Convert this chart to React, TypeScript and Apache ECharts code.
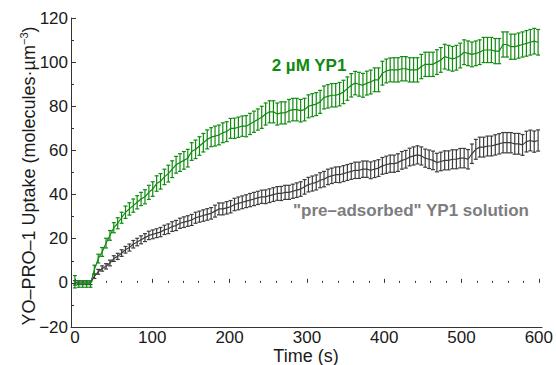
import React, { useEffect, useRef } from 'react';
import * as echarts from 'echarts';

// Time points (s)
const times = [
  0, 5, 10, 15, 20, 25, 30, 35, 40, 45,
  50, 55, 60, 65, 70, 75, 80, 85, 90, 95,
  100, 105, 110, 115, 120, 125, 130, 135, 140, 145,
  150, 155, 160, 165, 170, 175, 180, 185, 190, 195,
  200, 205, 210, 215, 220, 225, 230, 235, 240, 245,
  250, 255, 260, 265, 270, 275, 280, 285, 290, 295,
  300, 305, 310, 315, 320, 325, 330, 335, 340, 345,
  350, 355, 360, 365, 370, 375, 380, 385, 390, 395,
  400, 405, 410, 415, 420, 425, 430, 435, 440, 445,
  450, 455, 460, 465, 470, 475, 480, 485, 490, 495,
  500, 505, 510, 515, 520, 525, 530, 535, 540, 545,
  550, 555, 560, 565, 570, 575, 580, 585, 590, 595,
];

// 2 µM YP1 uptake (molecules·µm^-3)
const greenMean = [
  0.5, -0.5, -0.5, -0.5, -0.5, 6, 11, 14, 18, 21.5,
  25, 27, 29.5, 32, 33.5, 35, 36.5, 38, 39, 41,
  42.5, 45, 46, 48, 49.5, 51.5, 53.5, 54.5, 55.5, 56.5,
  59.5, 60.5, 62, 63.5, 65, 66, 66.5, 67, 68, 68.5,
  70, 70, 70.5, 71, 71, 72, 73, 74, 75, 76.5,
  77.5, 77.5, 76.5, 77, 77, 78, 78.5, 78.5, 78, 78.5,
  80, 80.5, 81, 82, 84, 84.5, 85, 85, 85.5, 86.5,
  88, 89.5, 90.5, 90, 89.5, 90.5, 91, 92, 92, 95,
  96, 96.5, 96.5, 96.5, 97, 97, 96.5, 96.5, 96.5, 98,
  99, 99, 99, 100, 101, 102.5, 102, 101.5, 102, 103,
  104.5, 104, 103.5, 104, 104.5, 105.5, 105.5, 105.5, 105, 105,
  108, 108, 107, 107, 107.5, 108, 108.5, 109, 109.5, 109,
];
const greenErr = [
  2.8, 1.5, 1.5, 1.5, 1.5, 2, 2, 2, 2.2, 2.2,
  2.3, 2.5, 2.5, 2.8, 2.8, 3, 3, 3, 3.2, 3.2,
  3.3, 3.5, 3.5, 3.5, 3.8, 3.8, 3.8, 4, 4, 4,
  4, 4.2, 4.2, 4.2, 4.3, 4.3, 4.5, 4.5, 4.5, 4.5,
  4.5, 4.6, 4.6, 4.6, 4.8, 4.8, 4.8, 4.8, 5, 5,
  5, 5, 5, 5, 5, 5.1, 5.1, 5.1, 5.1, 5.1,
  5.2, 5.2, 5.2, 5.2, 5.2, 5.3, 5.3, 5.3, 5.3, 5.3,
  5.3, 5.3, 5.3, 5.4, 5.4, 5.4, 5.4, 5.4, 5.4, 5.4,
  5.4, 5.4, 5.5, 5.5, 5.5, 5.5, 5.5, 5.5, 5.5, 5.5,
  5.5, 5.5, 5.5, 5.6, 5.6, 5.6, 5.6, 5.6, 5.6, 5.6,
  5.6, 5.6, 5.6, 5.6, 5.6, 5.7, 5.7, 5.7, 5.7, 5.7,
  5.7, 5.7, 5.7, 5.7, 5.7, 5.7, 5.8, 5.8, 5.8, 5.8,
];

// "pre-adsorbed" YP1 solution uptake
const grayMean = [
  0, 0, 0, 0, 0, 3, 5, 6.5, 7.5, 9,
  11, 12, 13.5, 15, 16, 17.5, 18.5, 19.5, 20.5, 21.5,
  22, 22.5, 23, 24, 24.5, 25.5, 26, 27, 27.5, 28,
  28.5, 29.5, 30, 30.5, 31, 31.5, 32.5, 33.5, 33.5, 34,
  34.5, 35.5, 36, 36.5, 37, 37.5, 38, 38.5, 39, 39,
  39.5, 40, 40.5, 40.5, 41, 41, 41.5, 42, 42.5, 43.5,
  44.5, 45, 45.5, 46.5, 47, 48, 48.5, 49, 49, 49.5,
  50, 50.5, 51, 51, 51.5, 51.5, 51, 51.5, 52, 53,
  53.5, 54, 54, 54.5, 55.5, 56, 57, 57.5, 58, 57.5,
  56.5, 56, 55.5, 54.5, 55, 55.5, 55.5, 56, 56, 56.5,
  56.5, 56, 58.5, 60.5, 61.5, 61.5, 62, 62, 62.5, 63,
  63.5, 63.5, 63.5, 63, 63, 62.5, 64, 64.5, 64, 64.5,
];
const grayErr = [
  1, 0.8, 0.8, 0.8, 0.8, 1, 1.1, 1.2, 1.2, 1.3,
  1.3, 1.4, 1.5, 1.5, 1.6, 1.7, 1.7, 1.8, 1.8, 1.9,
  2, 2, 2.1, 2.1, 2.2, 2.2, 2.3, 2.3, 2.4, 2.4,
  2.5, 2.5, 2.5, 2.6, 2.6, 2.6, 2.7, 2.7, 2.7, 2.8,
  2.8, 2.8, 2.9, 2.9, 2.9, 3, 3, 3, 3, 3.1,
  3.1, 3.1, 3.1, 3.2, 3.2, 3.2, 3.2, 3.3, 3.3, 3.3,
  3.3, 3.4, 3.4, 3.4, 3.5, 3.5, 3.5, 3.5, 3.6, 3.6,
  3.6, 3.6, 3.7, 3.7, 3.7, 3.7, 3.8, 3.8, 3.8, 3.8,
  3.9, 3.9, 3.9, 4, 4, 4, 4, 4.1, 4.1, 4.1,
  4.1, 4.2, 4.2, 4.2, 4.2, 4.3, 4.3, 4.3, 4.3, 4.4,
  4.4, 4.4, 4.4, 4.5, 4.5, 4.5, 4.5, 4.5, 4.6, 4.6,
  4.6, 4.6, 4.6, 4.7, 4.7, 4.7, 4.7, 4.7, 4.8, 4.8,
];

const GREEN = '#0f8a0f';
const GRAY = '#3c3c3c';
const FONT = '"Liberation Sans", Arial, Helvetica, sans-serif';

function errorSeries(name: string, mean: number[], err: number[], color: string, z: number) {
  const data = times.map((t, i) => [t, mean[i] - err[i], mean[i] + err[i]]);
  return {
    name: name + ' err',
    type: 'custom',
    xAxisIndex: 0,
    yAxisIndex: 0,
    z,
    encode: { x: 0, y: [1, 2] },
    data,
    renderItem: (params: any, api: any) => {
      const x = api.value(0);
      const lo = api.coord([x, api.value(1)]);
      const hi = api.coord([x, api.value(2)]);
      const w = 2;
      const style = { stroke: color, lineWidth: 1.2, fill: 'none' };
      return {
        type: 'group',
        children: [
          { type: 'line', shape: { x1: lo[0], y1: lo[1], x2: hi[0], y2: hi[1] }, style },
          { type: 'line', shape: { x1: lo[0] - w, y1: lo[1], x2: lo[0] + w, y2: lo[1] }, style },
          { type: 'line', shape: { x1: hi[0] - w, y1: hi[1], x2: hi[0] + w, y2: hi[1] }, style },
        ],
      };
    },
  };
}

export default function App() {
  const ref = useRef<HTMLDivElement>(null);
  useEffect(() => {
    if (!ref.current) return;
    const chart = echarts.init(ref.current, undefined, { renderer: 'svg' });
    const axisColor = '#333';
    const gridTop = 18;
    const gridBottom = 365 - 327;
    chart.setOption({
      animation: false,
      backgroundColor: '#fff',
      textStyle: { fontFamily: FONT },
      grid: [
        { left: 71, right: 556 - 542, top: gridTop, bottom: gridBottom },
        { left: 75, right: 556 - 542, top: gridTop, bottom: gridBottom },
      ],
      xAxis: [
        {
          type: 'value', gridIndex: 0, min: -5, max: 600,
          axisLine: { show: true, onZero: false, lineStyle: { color: axisColor, width: 1 } },
          axisTick: { show: false }, axisLabel: { show: false }, splitLine: { show: false },
        },
        {
          type: 'value', gridIndex: 1, min: 0, max: 600, interval: 100,
          axisLine: { show: false },
          axisTick: { show: true, inside: true, length: 4, lineStyle: { color: axisColor } },
          minorTick: { show: true, splitNumber: 5, length: 2, lineStyle: { color: axisColor } },
          axisLabel: { color: '#1a1a1a', fontSize: 17, lineHeight: 14, margin: 3, fontFamily: FONT },
          splitLine: { show: false },
        },
      ],
      yAxis: [
        {
          type: 'value', gridIndex: 0, min: -20, max: 120, interval: 20,
          axisLine: { show: true, onZero: false, lineStyle: { color: axisColor, width: 1 } },
          axisTick: { show: true, inside: true, length: 5, lineStyle: { color: axisColor } },
          minorTick: { show: true, splitNumber: 2, length: 3, lineStyle: { color: axisColor } },
          axisLabel: {
            color: '#1a1a1a', fontSize: 17, margin: 3, fontFamily: FONT,
            formatter: (v: number) => (v < 0 ? '\u2212' + Math.abs(v) : String(v)),
          },
          splitLine: { show: false },
        },
        {
          type: 'value', gridIndex: 1, min: -20, max: 120, show: false,
        },
      ],
      series: [
        errorSeries('gray', grayMean, grayErr, GRAY, 2),
        {
          name: 'gray', type: 'line', xAxisIndex: 0, yAxisIndex: 0, z: 3,
          data: times.map((t, i) => [t, grayMean[i]]),
          showSymbol: false, symbol: 'none',
          lineStyle: { color: GRAY, width: 1.2 },
        },
        errorSeries('green', greenMean, greenErr, GREEN, 4),
        {
          name: 'green', type: 'line', xAxisIndex: 0, yAxisIndex: 0, z: 5,
          data: times.map((t, i) => [t, greenMean[i]]),
          showSymbol: false, symbol: 'none',
          lineStyle: { color: GREEN, width: 1.2 },
        },
      ],
      graphic: [
        {
          type: 'text', x: 28, y: 176, rotation: Math.PI / 2, z: 10,
          style: {
            text: '{a|YO\u2013PRO\u20131 Uptake (molecules\u00b7\u00b5m}{b|\u22123}{a|)}',
            align: 'center', verticalAlign: 'middle',
            rich: {
              a: { fontSize: 18, fontFamily: FONT, fill: '#1a1a1a', lineHeight: 20, verticalAlign: 'bottom' },
              b: { fontSize: 11, fontFamily: FONT, fill: '#1a1a1a', lineHeight: 20, verticalAlign: 'top' },
            },
          },
        },
        {
          type: 'text', x: 306, y: 355.5, z: 10,
          style: { text: 'Time (s)', fontSize: 18, lineHeight: 15, fontFamily: FONT, fill: '#1a1a1a', align: 'center', verticalAlign: 'middle' },
        },
        {
          type: 'text', x: 309, y: 65, z: 10,
          style: { text: '2 \u00b5M YP1', fontSize: 17, fontWeight: 'bold', fontFamily: FONT, fill: GREEN, align: 'center', verticalAlign: 'middle' },
        },
        {
          type: 'text', x: 411, y: 210, z: 10,
          style: { text: '"pre\u2013adsorbed" YP1 solution', fontSize: 17, fontWeight: 'bold', fontFamily: FONT, fill: '#7d7d7d', align: 'center', verticalAlign: 'middle' },
        },
      ],
    });
    return () => chart.dispose();
  }, []);
  return <div ref={ref} style={{ position: 'fixed', left: 0, top: 0, width: 556, height: 365 }} />;
}
